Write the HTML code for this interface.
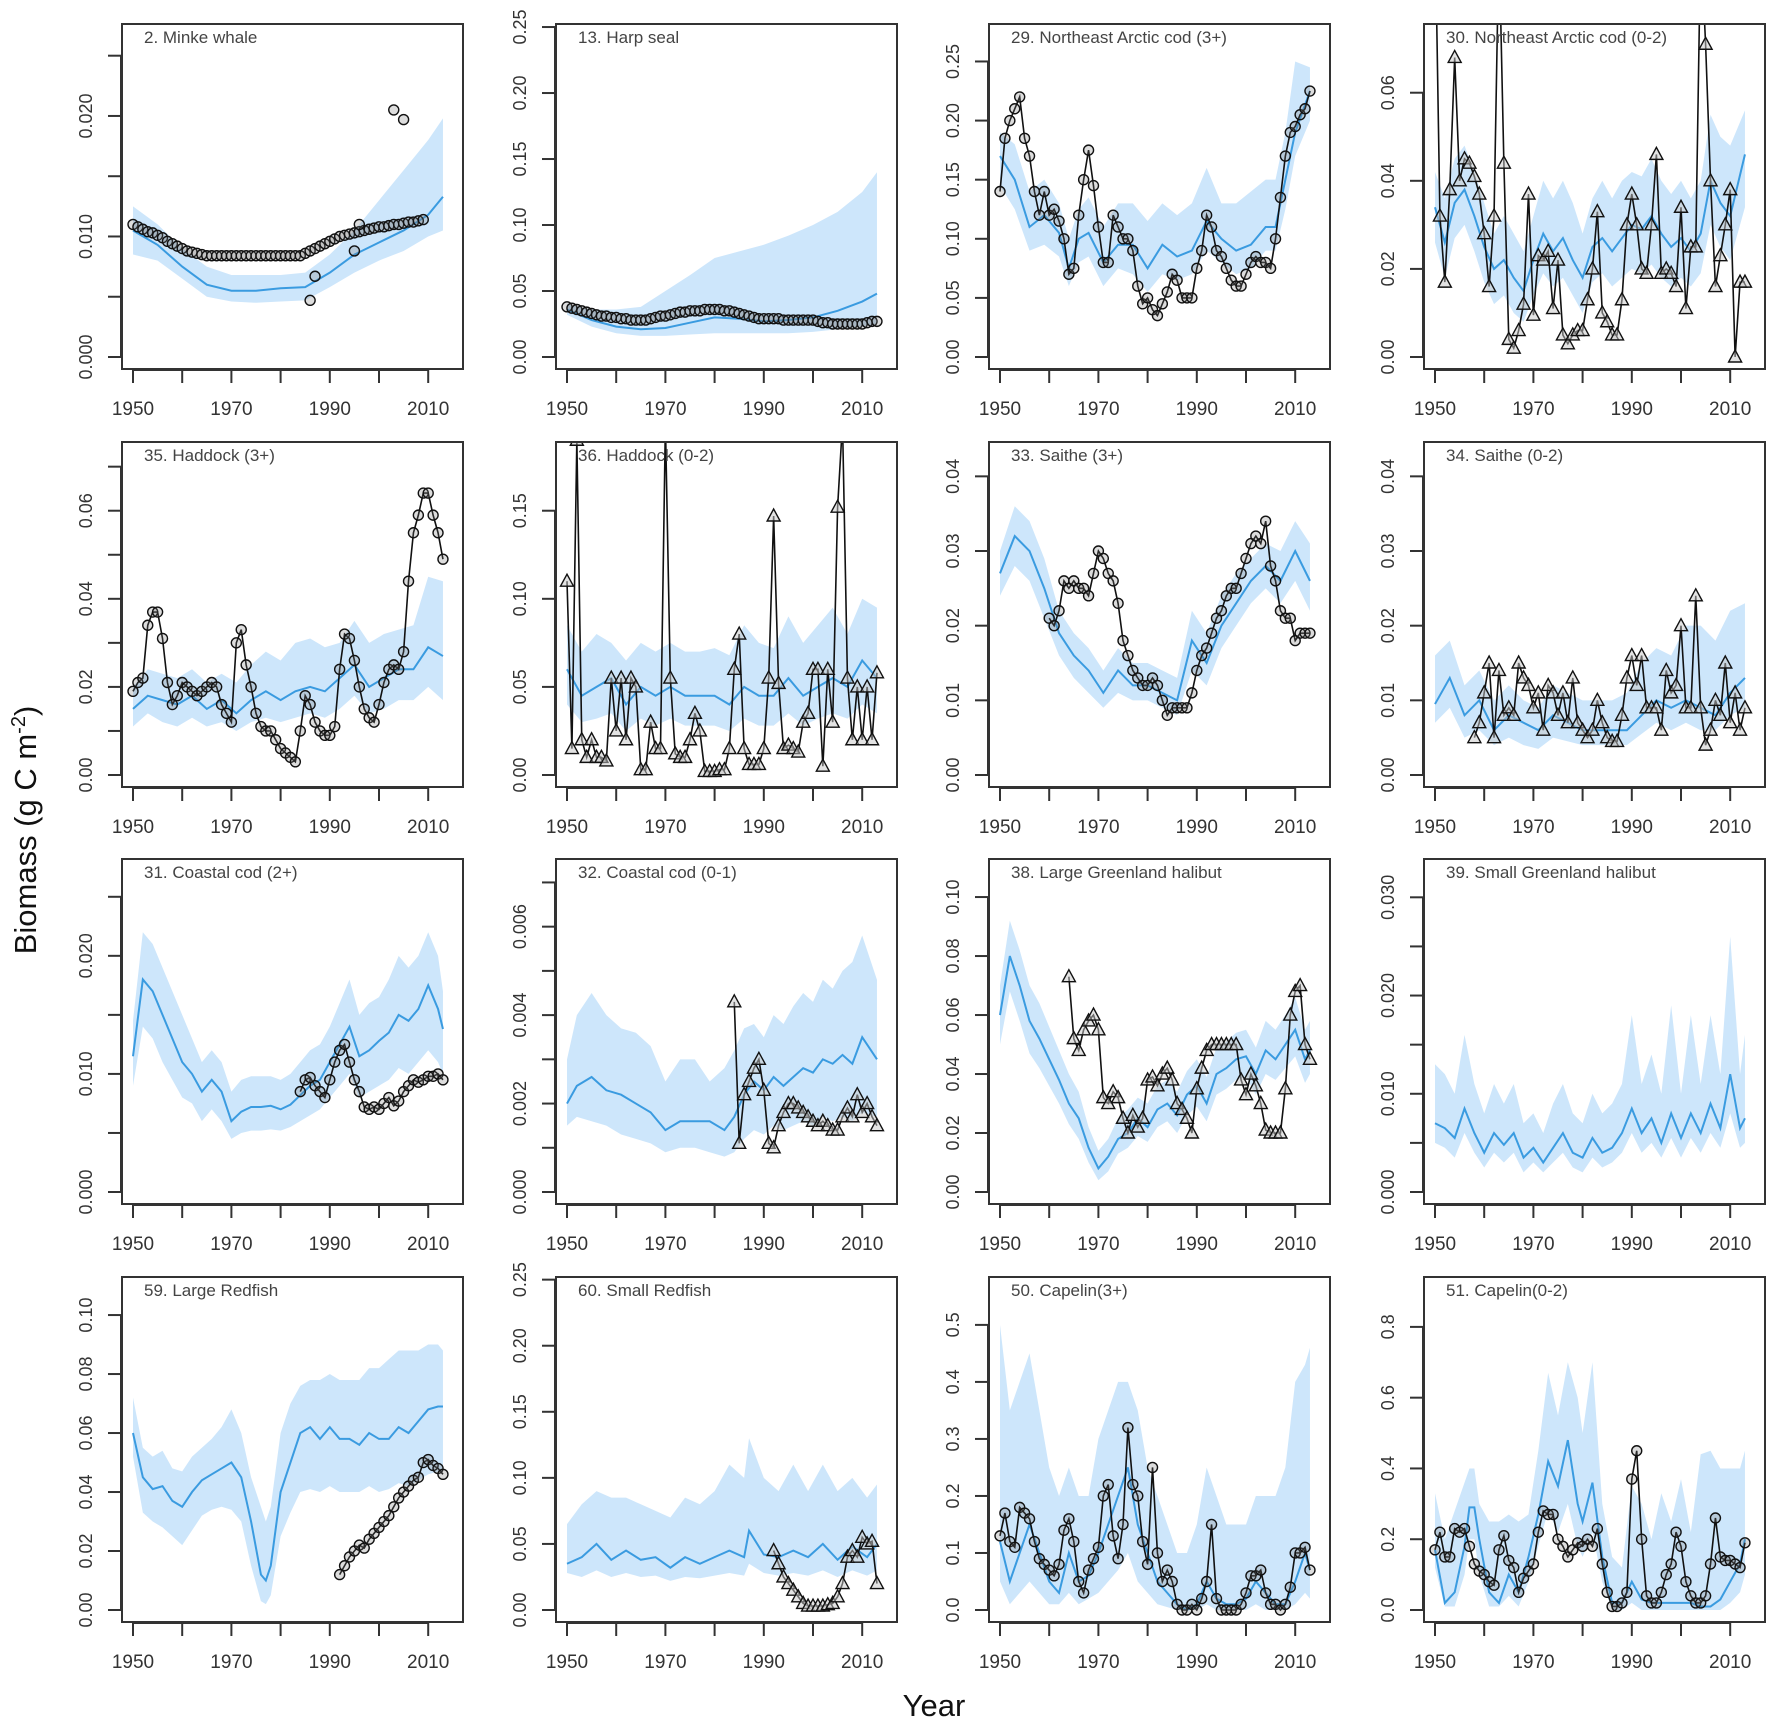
<!DOCTYPE html>
<html><head><meta charset="utf-8"><style>
html,body{margin:0;padding:0;background:#fff;}
svg{display:block;font-family:"Liberation Sans",sans-serif;}
</style></head><body>
<svg id="chart" width="1772" height="1724" viewBox="0 0 1772 1724" xmlns="http://www.w3.org/2000/svg">
<text x="0" y="0" transform="translate(36,830) rotate(-90)" text-anchor="middle" font-size="31" fill="#111">Biomass (g C m<tspan dy="-11" font-size="20">-2</tspan><tspan dy="11">)</tspan></text>
<text x="934" y="1716" text-anchor="middle" font-size="31" fill="#111">Year</text>
</svg>
<script>
// ---- data ----
const g14=[1950,1955,1960,1965,1970,1975,1980,1985,1990,1995,2000,2005,2010,2013];
const p1_mean=[.0105,.0093,.0075,.0060,.0055,.0055,.0057,.0058,.0070,.0085,.0095,.0105,.0118,.0133];
const p1_lo=[.0085,.008,.0065,.0050,.0046,.0045,.0046,.0047,.0058,.0070,.0080,.0088,.0100,.0105];
const p1_hi=[.0125,.011,.0090,.0075,.0068,.0068,.0068,.0070,.0085,.0105,.0130,.0155,.0180,.0198];
const p1_obs=[.0110,.0108,.0106,.0104,.0103,.0101,.0099,.0096,.0094,.0092,.0090,.0088,.0087,.0086,.0085,
.0084,.0084,.0084,.0084,.0084,.0084,.0084,.0084,.0084,.0084,.0084,.0084,.0084,.0084,.0084,.0084,.0084,.0084,.0084,.0084,
.0086,.0088,.0090,.0092,.0094,.0096,.0098,.0100,.0101,.0102,.0103,.0104,.0105,.0106,.0107,.0108,.0108,.0109,.0110,.0110,.0111,.0112,.0112,.0113,.0114];
const p1_exYrs=[1986,1987,1995,1996,2003,2005];
const p1_exVals=[.0047,.0067,.0088,.0110,.0205,.0197];

const p2_mean=[.036,.028,.023,.021,.022,.026,.030,.029,.027,.028,.030,.035,.042,.048];
const p2_lo=[.032,.023,.018,.016,.016,.017,.018,.018,.018,.018,.019,.021,.023,.025];
const p2_hi=[.040,.036,.036,.038,.050,.062,.075,.080,.085,.092,.100,.110,.125,.140];
const p2_obs=[.038,.037,.036,.035,.034,.033,.032,.031,.031,.030,.030,.029,.029,.028,.028,.028,.028,.029,.030,.031,
.031,.032,.033,.034,.034,.035,.035,.035,.036,.036,.036,.036,.035,.035,.034,.033,.032,.031,.030,.029,
.029,.029,.029,.029,.028,.028,.028,.028,.028,.028,.028,.027,.026,.026,.025,.025,.025,.025,.025,.025,.025,.026,.027,.027];

const p3_yrs=[1950,1953,1956,1959,1962,1964,1966,1968,1971,1974,1977,1980,1983,1986,1989,1992,1995,1998,2001,2004,2006,2008,2010,2013];
const p3_mean=[.17,.15,.11,.12,.105,.075,.10,.105,.08,.095,.095,.075,.095,.085,.09,.115,.10,.09,.095,.11,.11,.15,.19,.225];
const p3_lo=[.145,.125,.09,.095,.085,.06,.08,.085,.06,.075,.07,.055,.07,.065,.07,.09,.08,.07,.075,.09,.09,.125,.17,.20];
const p3_hi=[.19,.18,.14,.15,.13,.10,.125,.135,.11,.13,.13,.115,.13,.12,.13,.16,.13,.13,.14,.15,.15,.19,.25,.245];
const p3_obs=[.14,.185,.20,.21,.22,.185,.17,.14,.12,.14,.12,.125,.115,.10,.07,.075,.12,.15,.175,.145,
.11,.08,.08,.12,.11,.10,.10,.09,.06,.045,.05,.04,.035,.045,.055,.07,.065,.05,.05,.05,
.075,.09,.12,.11,.09,.085,.075,.065,.06,.06,.07,.08,.085,.08,.08,.075,.10,.135,.17,.19,.195,.205,.21,.225];

const p4_yrs=[1950,1952,1954,1956,1958,1960,1962,1964,1966,1968,1970,1972,1974,1976,1978,1980,1982,1984,1986,1988,1990,1992,1994,1996,1998,2000,2002,2004,2006,2008,2010,2013];
const p4_mean=[.034,.026,.035,.038,.032,.025,.020,.022,.018,.015,.022,.028,.024,.027,.022,.018,.025,.027,.024,.027,.030,.029,.032,.028,.025,.027,.024,.028,.040,.035,.032,.046];
const p4_lo=[.026,.018,.027,.030,.024,.017,.012,.014,.010,.008,.014,.019,.016,.018,.014,.010,.017,.019,.016,.018,.020,.019,.021,.018,.016,.018,.016,.019,.030,.025,.022,.034];
const p4_hi=[.042,.036,.045,.048,.042,.035,.028,.032,.028,.024,.032,.040,.036,.040,.035,.028,.036,.040,.036,.040,.042,.041,.045,.040,.037,.040,.036,.040,.055,.050,.048,.056];
const p4_obs=[.10,.032,.017,.038,.068,.040,.045,.044,.041,.037,.028,.016,.032,.095,.044,.004,.002,.006,.012,.037,
.0095,.023,.022,.024,.011,.022,.005,.003,.005,.006,.006,.013,.020,.033,.010,.008,.005,.005,.013,.030,
.037,.030,.020,.019,.030,.046,.019,.020,.019,.016,.034,.011,.025,.025,.095,.071,.040,.016,.023,.030,.038,.000,.017,.017];

const g22=[1950,1953,1956,1959,1962,1965,1968,1971,1974,1977,1980,1983,1986,1989,1992,1995,1998,2001,2004,2007,2010,2013];
const p5_mean=[.015,.018,.017,.016,.018,.015,.017,.014,.017,.019,.017,.019,.020,.019,.022,.025,.020,.022,.024,.024,.029,.027];
const p5_lo=[.011,.014,.012,.011,.013,.011,.012,.010,.012,.013,.012,.013,.014,.013,.015,.018,.014,.015,.017,.017,.020,.017];
const p5_hi=[.020,.024,.023,.022,.024,.021,.023,.021,.025,.028,.026,.030,.031,.029,.030,.035,.030,.032,.033,.034,.045,.044];
const p5_obs=[.019,.021,.022,.034,.037,.037,.031,.021,.016,.018,.021,.020,.019,.018,.019,.020,.021,.020,.016,.014,
.012,.030,.033,.025,.020,.014,.011,.010,.010,.008,.006,.005,.004,.003,.010,.018,.016,.012,.010,.009,
.009,.011,.024,.032,.031,.026,.020,.015,.013,.012,.016,.021,.024,.025,.024,.028,.044,.055,.059,.064,.064,.059,.055,.049];

const p6_mean=[.060,.045,.050,.055,.040,.050,.045,.050,.045,.045,.045,.040,.050,.045,.045,.055,.045,.050,.055,.050,.065,.055];
const p6_lo=[.040,.030,.032,.035,.025,.032,.028,.032,.028,.028,.028,.025,.032,.028,.028,.035,.028,.032,.035,.032,.040,.035];
const p6_hi=[.085,.070,.080,.075,.065,.075,.070,.075,.070,.070,.072,.068,.085,.075,.072,.090,.075,.085,.095,.080,.100,.095];
const p6_obs=[.11,.015,.19,.02,.01,.02,.01,.01,.008,.055,.025,.055,.020,.055,.050,.003,.003,.030,.015,.015,
.20,.055,.012,.010,.010,.020,.035,.025,.002,.002,.002,.003,.003,.015,.060,.080,.015,.006,.006,.006,
.015,.055,.147,.052,.015,.017,.015,.013,.030,.035,.060,.060,.005,.060,.030,.152,.20,.055,.020,.050,.020,.050,.020,.058];

const p7_mean=[.027,.032,.030,.025,.019,.016,.014,.011,.014,.012,.012,.011,.010,.018,.015,.020,.023,.026,.028,.026,.030,.026];
const p7_lo=[.024,.028,.026,.021,.016,.013,.011,.009,.011,.010,.010,.009,.008,.014,.012,.017,.020,.023,.025,.023,.026,.022];
const p7_hi=[.030,.036,.034,.029,.022,.019,.017,.014,.017,.015,.015,.014,.013,.022,.019,.024,.027,.029,.031,.030,.034,.031];
const p7_obs=[.021,.020,.022,.026,.025,.026,.025,.025,.024,.027,.030,.029,.027,.026,.023,.018,.016,.014,.013,.012,
.012,.013,.012,.010,.008,.009,.009,.009,.009,.011,.014,.016,.017,.019,.021,.022,.024,.025,.025,.027,
.029,.031,.032,.031,.034,.028,.026,.022,.021,.021,.018,.019,.019,.019];

const p8_mean=[.0095,.013,.008,.010,.006,.008,.007,.006,.008,.007,.006,.006,.006,.006,.008,.010,.009,.010,.009,.008,.011,.013];
const p8_lo=[.007,.009,.005,.006,.004,.005,.004,.0035,.005,.0045,.004,.004,.004,.004,.0055,.007,.006,.007,.006,.006,.008,.009];
const p8_hi=[.016,.018,.012,.014,.010,.012,.010,.009,.012,.011,.010,.010,.010,.011,.015,.017,.016,.020,.020,.018,.022,.023];
const p8_obs=[.005,.007,.011,.015,.005,.014,.008,.009,.008,.015,.013,.012,.009,.011,.006,.012,.011,.008,.011,.007,.013,.007,
.006,.005,.006,.010,.007,.005,.0045,.0045,.008,.013,.016,.012,.016,.009,.009,.009,.006,.014,.011,.012,
.020,.009,.009,.024,.009,.004,.006,.010,.008,.015,.007,.011,.006,.009];

const g33=[1950,1952,1954,1956,1958,1960,1962,1964,1966,1968,1970,1972,1974,1976,1978,1980,1982,1984,1986,1988,1990,1992,1994,1996,1998,2000,2002,2004,2006,2008,2010,2012,2013];
const p9_mean=[.0115,.018,.017,.015,.013,.011,.010,.0085,.0095,.0085,.006,.0068,.0072,.0072,.0073,.0070,.0074,.0082,.0090,.0095,.0110,.0125,.0140,.0115,.0120,.0128,.0135,.0150,.0145,.0155,.0175,.0155,.0138];
const p9_lo=[.009,.014,.013,.011,.0095,.008,.0075,.006,.007,.006,.0045,.005,.0052,.0052,.0053,.0052,.0055,.006,.0065,.007,.008,.009,.010,.008,.0085,.009,.0095,.0105,.010,.011,.012,.011,.010];
const p9_hi=[.0145,.022,.021,.019,.017,.015,.013,.011,.012,.011,.0085,.0095,.0098,.0098,.0098,.0095,.010,.011,.012,.0125,.014,.016,.018,.015,.016,.0165,.018,.020,.019,.020,.022,.020,.017];
const p9_obs=[.0085,.0095,.0097,.009,.0085,.008,.0095,.011,.012,.0125,.011,.0095,.0085,.0072,.007,.0072,.007,.0075,.008,.0073,.0077,.0085,.009,.0095,.0093,.0095,.0098,.0098,.010,.0095];

const p10_yrs=[1950,1952,1955,1958,1961,1964,1967,1970,1973,1976,1979,1982,1984,1986,1988,1990,1992,1994,1996,1998,2000,2002,2004,2006,2008,2010,2013];
const p10_mean=[.0020,.0024,.0026,.0023,.0022,.0020,.0018,.0014,.0016,.0016,.0016,.0014,.0017,.0022,.0025,.0023,.0026,.0024,.0026,.0028,.0027,.0030,.0029,.0031,.0029,.0035,.0030];
const p10_lo=[.0015,.0017,.0016,.0015,.0013,.0012,.0011,.0009,.0010,.0010,.0009,.0008,.0009,.0012,.0014,.0013,.0015,.0014,.0015,.0016,.0015,.0017,.0016,.0017,.0016,.0018,.0017];
const p10_hi=[.0030,.0040,.0045,.0040,.0037,.0036,.0033,.0025,.0030,.0030,.0025,.0028,.0032,.0037,.0038,.0035,.0040,.0038,.0042,.0045,.0043,.0048,.0046,.0050,.0052,.0058,.0048];
const p10_obs=[.0043,.0011,.0022,.0025,.0028,.0030,.0023,.0011,.0010,.0015,.0018,.0020,.0020,.0019,.0018,.0017,.0016,.0015,.0016,.0015,.0014,.0014,.0017,.0019,.0017,.0022,.0018,.0020,.0017,.0015];

const p11_mean=[.060,.080,.070,.058,.052,.045,.038,.030,.025,.015,.008,.012,.018,.020,.025,.022,.028,.030,.026,.033,.036,.030,.040,.042,.045,.046,.040,.048,.045,.050,.055,.045,.048];
const p11_lo=[.050,.068,.058,.047,.042,.036,.030,.023,.018,.010,.004,.007,.013,.015,.019,.017,.022,.024,.020,.026,.029,.024,.033,.035,.038,.039,.033,.040,.038,.042,.046,.037,.040];
const p11_hi=[.070,.092,.082,.070,.064,.056,.048,.040,.034,.022,.014,.018,.025,.028,.032,.030,.036,.038,.034,.041,.045,.039,.049,.051,.054,.055,.049,.058,.055,.060,.066,.055,.058];
const p11_obs=[.073,.052,.048,.055,.058,.060,.055,.032,.030,.034,.032,.025,.020,.026,.022,.025,.038,.039,.036,.040,.042,.038,.030,.028,.025,.020,
.035,.042,.048,.050,.050,.050,.050,.050,.050,.038,.033,.040,.036,.030,.021,.020,.020,.020,.035,.060,.068,.070,.050,.045];

const p12_mean=[.0070,.0065,.0055,.0085,.0060,.0040,.0060,.0048,.0060,.0035,.0045,.0030,.0045,.0060,.0040,.0035,.0055,.0040,.0045,.0060,.0085,.0060,.0075,.0050,.0080,.0055,.0080,.0060,.0090,.0065,.0120,.0065,.0075];
const p12_lo=[.005,.0045,.0035,.006,.004,.0025,.004,.003,.004,.002,.003,.002,.003,.004,.0025,.002,.0035,.0025,.003,.004,.006,.004,.005,.0035,.0055,.0035,.0055,.004,.006,.0045,.008,.0045,.005];
const p12_hi=[.013,.012,.010,.016,.011,.008,.011,.009,.011,.007,.008,.006,.009,.011,.008,.007,.010,.008,.009,.011,.018,.011,.014,.010,.019,.010,.018,.011,.018,.012,.026,.012,.016];

const p13_yrs=[1950,1952,1954,1956,1958,1960,1962,1964,1966,1968,1970,1972,1974,1976,1977,1978,1980,1982,1984,1986,1988,1990,1992,1994,1996,1998,2000,2002,2004,2006,2008,2010,2012,2013];
const p13_mean=[.060,.045,.041,.042,.037,.035,.040,.044,.046,.048,.050,.045,.030,.012,.010,.015,.040,.050,.060,.062,.058,.062,.058,.058,.056,.060,.058,.058,.062,.060,.064,.068,.069,.069];
const p13_lo=[.052,.033,.030,.028,.025,.022,.027,.032,.034,.035,.034,.030,.015,.003,.002,.005,.025,.033,.040,.041,.040,.042,.040,.040,.040,.042,.040,.041,.043,.042,.044,.046,.047,.047];
const p13_hi=[.072,.055,.052,.054,.048,.047,.052,.055,.058,.062,.068,.060,.045,.035,.030,.035,.060,.070,.076,.078,.078,.080,.078,.078,.078,.082,.082,.085,.088,.088,.088,.090,.090,.088];
const p13_obs=[.012,.015,.018,.020,.022,.021,.024,.026,.028,.030,.032,.035,.038,.040,.042,.044,.045,.050,.051,.049,.048,.046];

const p14_yrs=[1950,1953,1956,1959,1962,1965,1968,1971,1974,1977,1980,1983,1986,1987,1990,1993,1996,1999,2002,2005,2008,2011,2013];
const p14_mean=[.035,.040,.050,.038,.045,.038,.040,.032,.040,.035,.040,.045,.040,.060,.042,.040,.045,.040,.050,.038,.048,.040,.050];
const p14_lo=[.028,.025,.030,.025,.028,.025,.026,.022,.025,.024,.026,.028,.026,.035,.028,.026,.028,.026,.030,.025,.030,.026,.030];
const p14_hi=[.065,.08,.09,.085,.085,.08,.075,.07,.085,.08,.09,.11,.10,.13,.10,.09,.11,.09,.11,.09,.10,.085,.095];
const p14_obs=[.045,.035,.025,.020,.015,.010,.005,.003,.003,.003,.003,.004,.005,.010,.020,.040,.045,.040,.055,.050,.052,.020];

const p15_mean=[.12,.05,.10,.15,.10,.05,.03,.10,.05,.06,.10,.15,.20,.25,.15,.10,.05,.03,.01,.0,.01,.05,.02,.01,.01,.02,.05,.03,.01,.01,.05,.10,.07];
const p15_lo=[.05,.01,.03,.05,.03,.01,.01,.03,.01,.02,.03,.05,.07,.10,.05,.03,.01,.005,0,0,0,.01,0,0,0,0,.01,0,0,0,.01,.03,.02];
const p15_hi=[.50,.35,.40,.45,.35,.25,.20,.25,.20,.20,.30,.35,.40,.40,.35,.25,.20,.15,.10,.10,.15,.25,.20,.15,.15,.15,.20,.20,.20,.25,.40,.43,.46];
const p15_obs=[.13,.17,.12,.11,.18,.17,.16,.12,.09,.08,.07,.06,.08,.14,.16,.12,.05,.03,.07,.09,
.11,.20,.22,.13,.09,.15,.32,.22,.20,.12,.08,.25,.10,.05,.07,.05,.01,.00,.00,.01,
.00,.02,.05,.15,.02,.00,.00,.00,.00,.01,.03,.06,.06,.07,.03,.01,.01,.00,.01,.04,.10,.10,.11,.07];

const p16_yrs=[1950,1952,1954,1956,1957,1958,1959,1961,1963,1965,1967,1969,1971,1973,1975,1977,1979,1980,1982,1984,1986,1988,1990,1992,1994,1996,1998,2000,2002,2004,2006,2008,2010,2012,2013];
const p16_mean=[.17,.02,.05,.18,.29,.29,.20,.05,.02,.10,.05,.15,.27,.42,.35,.48,.30,.25,.36,.15,.02,.02,.08,.03,.02,.02,.02,.02,.02,.01,.01,.03,.08,.13,.20];
const p16_lo=[.12,.01,.01,.10,.20,.20,.10,.01,.01,.04,.01,.08,.18,.28,.22,.30,.18,.15,.22,.08,.0,.0,.02,.0,.0,.0,.0,.0,.0,.0,.0,.0,.02,.05,.10];
const p16_hi=[.33,.20,.28,.36,.40,.40,.30,.25,.25,.27,.25,.27,.45,.67,.55,.70,.60,.50,.70,.30,.15,.12,.35,.30,.20,.33,.25,.37,.22,.44,.45,.40,.40,.40,.45];
const p16_obs=[.17,.22,.15,.15,.23,.22,.23,.18,.13,.11,.10,.08,.07,.17,.21,.14,.12,.05,.09,.11,
.13,.22,.28,.27,.27,.20,.18,.15,.17,.19,.18,.20,.18,.23,.13,.05,.01,.01,.02,.05,
.37,.45,.20,.04,.02,.02,.05,.10,.13,.22,.18,.08,.04,.02,.02,.04,.13,.26,.15,.14,.14,.13,.12,.19];

const xTickYears=[1950,1960,1970,1980,1990,2000,2010];
const xLabelYears=[1950,1970,1990,2010];

// ---- layout ----
const colX=[122,556,989,1424], rowY=[24,442,859,1277], W=341, H=345;
const panels=[
 {t:"2. Minke whale",c:0,r:0,top:.02763,step:.005,ev:2,dec:3,yrs:g14,mean:p1_mean,lo:p1_lo,hi:p1_hi,obs:p1_obs,os:1950,mk:"c",ln:false,exY:p1_exYrs,exV:p1_exVals},
 {t:"13. Harp seal",c:1,r:0,top:.2523,step:.05,ev:1,dec:2,yrs:g14,mean:p2_mean,lo:p2_lo,hi:p2_hi,obs:p2_obs,os:1950,mk:"c",ln:false},
 {t:"29. Northeast Arctic cod (3+)",c:2,r:0,top:.2817,step:.05,ev:1,dec:2,yrs:p3_yrs,mean:p3_mean,lo:p3_lo,hi:p3_hi,obs:p3_obs,os:1950,mk:"c",ln:true},
 {t:"30. Northeast Arctic cod (0-2)",c:3,r:0,top:.0756,step:.02,ev:1,dec:2,yrs:p4_yrs,mean:p4_mean,lo:p4_lo,hi:p4_hi,obs:p4_obs,os:1950,mk:"t",ln:true},
 {t:"35. Haddock (3+)",c:0,r:1,top:.0756,step:.01,ev:2,dec:2,yrs:g22,mean:p5_mean,lo:p5_lo,hi:p5_hi,obs:p5_obs,os:1950,mk:"c",ln:true},
 {t:"36. Haddock (0-2)",c:1,r:1,top:.189,step:.05,ev:1,dec:2,yrs:g22,mean:p6_mean,lo:p6_lo,hi:p6_hi,obs:p6_obs,os:1950,mk:"t",ln:true},
 {t:"33. Saithe (3+)",c:2,r:1,top:.0446,step:.01,ev:1,dec:2,yrs:g22,mean:p7_mean,lo:p7_lo,hi:p7_hi,obs:p7_obs,os:1960,mk:"c",ln:true},
 {t:"34. Saithe (0-2)",c:3,r:1,top:.0446,step:.01,ev:1,dec:2,yrs:g22,mean:p8_mean,lo:p8_lo,hi:p8_hi,obs:p8_obs,os:1958,mk:"t",ln:true},
 {t:"31. Coastal cod (2+)",c:0,r:2,top:.0282,step:.005,ev:2,dec:3,yrs:g33,mean:p9_mean,lo:p9_lo,hi:p9_hi,obs:p9_obs,os:1984,mk:"c",ln:true},
 {t:"32. Coastal cod (0-1)",c:1,r:2,top:.00753,step:.001,ev:2,dec:3,yrs:p10_yrs,mean:p10_mean,lo:p10_lo,hi:p10_hi,obs:p10_obs,os:1984,mk:"t",ln:true},
 {t:"38. Large Greenland halibut",c:2,r:2,top:.1129,step:.02,ev:1,dec:2,yrs:g33,mean:p11_mean,lo:p11_lo,hi:p11_hi,obs:p11_obs,os:1964,mk:"t",ln:true},
 {t:"39. Small Greenland halibut",c:3,r:2,top:.0339,step:.005,ev:2,dec:3,yrs:g33,mean:p12_mean,lo:p12_lo,hi:p12_hi,obs:[],os:1950,mk:"c",ln:true},
 {t:"59. Large Redfish",c:0,r:3,top:.1129,step:.02,ev:1,dec:2,yrs:p13_yrs,mean:p13_mean,lo:p13_lo,hi:p13_hi,obs:p13_obs,os:1992,mk:"c",ln:true},
 {t:"60. Small Redfish",c:1,r:3,top:.252,step:.05,ev:1,dec:2,yrs:p14_yrs,mean:p14_mean,lo:p14_lo,hi:p14_hi,obs:p14_obs,os:1992,mk:"t",ln:true},
 {t:"50. Capelin(3+)",c:2,r:3,top:.584,step:.1,ev:1,dec:1,yrs:g33,mean:p15_mean,lo:p15_lo,hi:p15_hi,obs:p15_obs,os:1950,mk:"c",ln:true},
 {t:"51. Capelin(0-2)",c:3,r:3,top:.941,step:.2,ev:1,dec:1,yrs:p16_yrs,mean:p16_mean,lo:p16_lo,hi:p16_hi,obs:p16_obs,os:1950,mk:"c",ln:true}
];
const NS="http://www.w3.org/2000/svg";
const svg=document.getElementById('chart');
function mk(tag,attrs,parent){const e=document.createElementNS(NS,tag);for(const k in attrs)e.setAttribute(k,attrs[k]);(parent||svg).appendChild(e);return e;}
function slug(s){return s.toLowerCase().replace(/[^a-z0-9]+/g,'-').replace(/^-|-$/g,'');}

panels.forEach((p,i)=>{
  const L=colX[p.c], T=rowY[p.r];
  const xS=y=>L+11+(y-1950)*4.92;
  const yS=v=>T+333-v*333/p.top;
  const g=mk('g',{});
  
  
  const cp=mk('clipPath',{id:'cp'+i},g);
  mk('rect',{x:L,y:T,width:W,height:H},cp);
  const inner=mk('g',{'clip-path':'url(#cp'+i+')'},g);
  // band
  let pts=p.yrs.map((y,k)=>xS(y)+','+yS(p.hi[k]));
  for(let k=p.yrs.length-1;k>=0;k--)pts.push(xS(p.yrs[k])+','+yS(p.lo[k]));
  const band=mk('polygon',{points:pts.join(' '),fill:'#cde6fb',stroke:'none'},inner);
  
  
  const ml=mk('polyline',{points:p.yrs.map((y,k)=>xS(y)+','+yS(p.mean[k])).join(' '),fill:'none',stroke:'#3a9be0','stroke-width':2},inner);
  
  
  // obs
  const oy=p.obs.map((v,k)=>p.os+k);
  if(p.ln&&p.obs.length){
    const ol=mk('polyline',{points:p.obs.map((v,k)=>xS(oy[k])+','+yS(v)).join(' '),fill:'none',stroke:'#111','stroke-width':1.6},inner);
    
    
  }
  const drawM=(yr,v)=>{
    const x=xS(yr), y=yS(v); let m;
    if(p.mk==='c') m=mk('circle',{cx:x,cy:y,r:5,fill:'rgba(120,120,120,0.25)',stroke:'#111','stroke-width':1.4},inner);
    else m=mk('polygon',{points:`${x},${y-7} ${x-6.5},${y+5} ${x+6.5},${y+5}`,fill:'rgba(200,200,200,0.5)',stroke:'#111','stroke-width':1.4},inner);
    
    
  };
  p.obs.forEach((v,k)=>drawM(oy[k],v));
  if(p.exY) p.exY.forEach((y,k)=>drawM(y,p.exV[k]));
  // box
  const box=mk('rect',{x:L,y:T,width:W,height:H,fill:'none',stroke:'#333','stroke-width':2},g);
  
  
  // title
  const tt=mk('text',{x:L+22,y:T+19,'font-size':17,fill:'#444'},g);
  tt.textContent=p.t;
  
  
  // x axis
  mk('line',{x1:xS(1950),x2:xS(2010),y1:T+H+1,y2:T+H+1,stroke:'#333','stroke-width':2},g);
  xTickYears.forEach(y=>{mk('line',{x1:xS(y),x2:xS(y),y1:T+H,y2:T+H+14,stroke:'#333','stroke-width':2},g);});
  xLabelYears.forEach(y=>{
    const t=mk('text',{x:xS(y),y:T+H+46,'text-anchor':'middle','font-size':19,fill:'#333'},g);
    t.textContent=String(y);
    
    
  });
  // y axis
  const n=Math.floor(p.top/p.step+1e-6);
  mk('line',{x1:L-1,x2:L-1,y1:yS(0),y2:yS(n*p.step),stroke:'#333','stroke-width':2},g);
  for(let k=0;k<=n;k++){
    const v=k*p.step, y=yS(v);
    mk('line',{x1:L-14,x2:L,y1:y,y2:y,stroke:'#333','stroke-width':2},g);
    if(k%p.ev===0){
      const t=mk('text',{x:0,y:0,transform:`translate(${L-30},${y}) rotate(-90)`,'text-anchor':'middle','font-size':18,fill:'#333'},g);
      t.textContent=v.toFixed(p.dec);
      
      
    }
  }
});
</script>
</body></html>
